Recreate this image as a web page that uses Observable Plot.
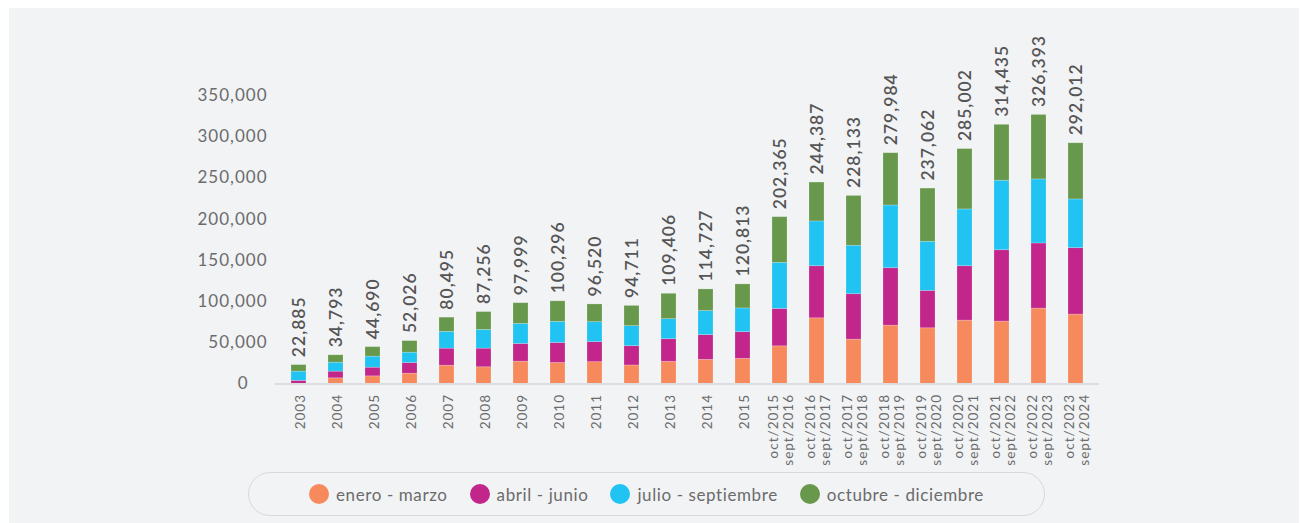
<!DOCTYPE html>
<html>
<head>
<meta charset="utf-8">
<script src="https://cdn.jsdelivr.net/npm/d3@7"></script>
<script src="https://cdn.jsdelivr.net/npm/@observablehq/plot@0.6"></script>
<style>
  html, body { margin: 0; padding: 0; background: #ffffff; }
  body { width: 1300px; height: 523px; position: relative; overflow: hidden; font-family: Lato, "Open Sans", sans-serif; }
  #bg { position: absolute; left: 9px; top: 8px; width: 1290px; height: 520px; background: #f2f3f5; }
  #chart { position: absolute; left: 0; top: 0; }
  #legend { position: absolute; left: 248px; top: 472px; width: 795px; height: 42px; border: 1px solid #d6d8db;
    border-radius: 22px; display: flex; align-items: center; justify-content: center; gap: 22px; color: #6b6b6b;
    font-size: 17px; letter-spacing: 0.6px; }
  .item { display: flex; align-items: center; gap: 7px; }
  .dot { width: 20px; height: 20px; border-radius: 50%; display: inline-block; }
</style>
</head>
<body>
<div id="bg"></div>
<div id="chart"></div>
<div id="legend"></div>
<script>
const categories = ["2003","2004","2005","2006","2007","2008","2009","2010","2011","2012","2013","2014","2015",
  "oct/2015\nsept/2016","oct/2016\nsept/2017","oct/2017\nsept/2018","oct/2018\nsept/2019","oct/2019\nsept/2020",
  "oct/2020\nsept/2021","oct/2021\nsept/2022","oct/2022\nsept/2023","oct/2023\nsept/2024"];
const seriesNames = ["enero - marzo","abril - junio","julio - septiembre","octubre - diciembre"];
const seriesColors = ["#f68a5c","#c2268a","#21c3f2","#67984b"];
const eneroMarzo = [0,6900,9300,12500,22200,20300,27100,25500,26500,22500,26900,29300,30500,45700,79700,53800,70800,67600,76900,75700,91500,84200];
const abrilJunio = [3800,8100,10500,13000,20700,22600,21500,24300,24300,23400,27500,30000,32400,45400,63200,55100,69700,45400,66000,86600,79000,80600];
const julioSeptiembre = [11200,10900,13400,12500,20300,22700,24300,25500,24200,24300,24300,29200,28800,55900,54300,58800,76100,59500,68900,84300,77700,59100];
const octubreDiciembre = [7885,8893,11490,14026,17295,21656,25099,24996,21520,24511,30706,26227,29113,55365,47187,60433,63384,64562,73202,67835,78193,68112];
const totals = [22885,34793,44690,52026,80495,87256,97999,100296,96520,94711,109406,114727,120813,202365,244387,228133,279984,237062,285002,314435,326393,292012];
const yTicks = [0,50000,100000,150000,200000,250000,300000,350000];

const seriesValues = [eneroMarzo, abrilJunio, julioSeptiembre, octubreDiciembre];
const long = [];
seriesNames.forEach((s, si) => categories.forEach((c, ci) => long.push({cat: c, series: s, value: seriesValues[si][ci]})));
const totalsData = categories.map((c, i) => ({cat: c, total: totals[i]}));
const fmt = d3.format(",");
const font = "Lato, 'Open Sans', sans-serif";

const plot = Plot.plot({
  width: 1300,
  height: 470,
  marginLeft: 275,
  marginRight: 201,
  marginTop: 0,
  marginBottom: 0,
  style: {background: "transparent", fontFamily: font, overflow: "visible", letterSpacing: "1px"},
  x: {domain: categories, paddingInner: 0.6, paddingOuter: 0.3, axis: null},
  y: {domain: [0, 350000], range: [383.5, 95], axis: null},
  color: {domain: seriesNames, range: seriesColors},
  marks: [
    Plot.axisY({ticks: yTicks, tickSize: 0, tickPadding: 8, fontSize: 17, fill: "#6b6b6b",
      tickFormat: d => d === 0 ? "0\u2002\u2002" : fmt(d)}),
    Plot.barY(long, {x: "cat", y: "value", fill: "series", stroke: "#ffffff", strokeOpacity: 0.25, strokeWidth: 0.8}),
    Plot.ruleY([0], {stroke: "#dcdde0", strokeWidth: 2}),
    Plot.text(totalsData, {x: "cat", y: "total", text: d => fmt(d.total), rotate: -90, textAnchor: "start",
      dy: -8, fontSize: 17.5, fontWeight: 600, fill: "#555555"}),
    Plot.text(categories, {x: d => d, y: () => 0, text: d => d, rotate: -90, textAnchor: "end",
      lineAnchor: "middle", lineHeight: 1.08, dy: 10, dx: 1, fontSize: 13.5, fill: "#6b6b6b"})
  ]
});
document.getElementById("chart").appendChild(plot);

const legend = document.getElementById("legend");
seriesNames.forEach((s, i) => {
  const item = document.createElement("div");
  item.className = "item";
  const dot = document.createElement("span");
  dot.className = "dot";
  dot.style.background = seriesColors[i];
  const label = document.createElement("span");
  label.textContent = s;
  item.appendChild(dot);
  item.appendChild(label);
  legend.appendChild(item);
});
</script>
</body>
</html>
